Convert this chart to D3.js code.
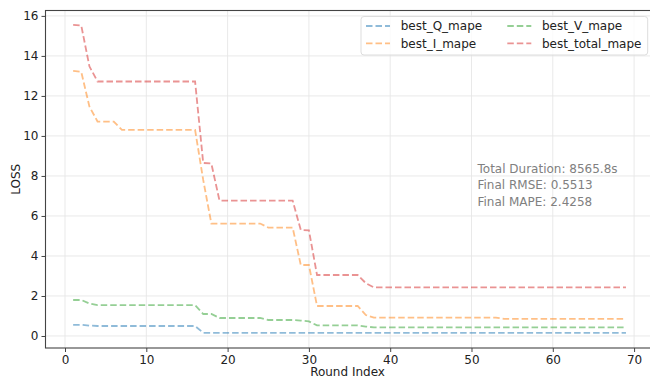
<!DOCTYPE html>
<html>
<head>
<meta charset="utf-8">
<script src="https://cdn.jsdelivr.net/npm/d3@7"></script>
<style>
  body { margin: 0; background: #fff; }
  #chart { width: 650px; height: 379px; }
  text { font-family: "DejaVu Sans", sans-serif; }
</style>
</head>
<body>
<div id="chart"></div>
<script>
// round index 1..69
let rounds = d3.range(1, 70);

let bestQ = [0.56, 0.56, 0.52, 0.5, 0.5, 0.5, 0.5, 0.5, 0.5, 0.5, 0.5, 0.5, 0.5, 0.5, 0.5, 0.5,
    0.16, 0.16, 0.16, 0.16, 0.16, 0.16, 0.16, 0.16, 0.16, 0.16, 0.16, 0.16, 0.16, 0.16,
    0.16, 0.16, 0.16, 0.16, 0.16, 0.16, 0.16, 0.16, 0.16, 0.16, 0.16, 0.16, 0.16, 0.16,
    0.16, 0.16, 0.16, 0.16, 0.16, 0.16, 0.16, 0.16, 0.16, 0.16, 0.16, 0.16, 0.16, 0.16,
    0.16, 0.16, 0.16, 0.16, 0.16, 0.16, 0.16, 0.16, 0.16, 0.16, 0.16];

let bestI = [13.25, 13.2, 11.47, 10.72, 10.72, 10.72, 10.3, 10.3, 10.3, 10.3, 10.3, 10.3, 10.3, 10.3, 10.3, 10.3,
    7.8, 5.62, 5.62, 5.62, 5.62, 5.62, 5.62, 5.62, 5.42, 5.42, 5.42, 5.42, 3.55, 3.55,
    1.5, 1.5, 1.5, 1.5, 1.5, 1.5, 1.05, 0.92, 0.92, 0.92, 0.92, 0.92, 0.92, 0.92,
    0.92, 0.92, 0.92, 0.92, 0.92, 0.92, 0.92, 0.92, 0.92, 0.86, 0.86, 0.86, 0.86, 0.86,
    0.86, 0.86, 0.86, 0.86, 0.86, 0.86, 0.86, 0.86, 0.86, 0.86, 0.86];

let bestV = [1.8, 1.8, 1.62, 1.54, 1.54, 1.54, 1.54, 1.54, 1.54, 1.54, 1.54, 1.54, 1.54, 1.54, 1.54, 1.54,
    1.1, 1.1, 0.9, 0.9, 0.9, 0.9, 0.9, 0.9, 0.8, 0.8, 0.8, 0.8, 0.77, 0.73,
    0.53, 0.53, 0.53, 0.53, 0.53, 0.53, 0.47, 0.43, 0.43, 0.43, 0.43, 0.43, 0.43, 0.43,
    0.43, 0.43, 0.43, 0.43, 0.43, 0.43, 0.43, 0.43, 0.43, 0.43, 0.43, 0.43, 0.43, 0.43,
    0.43, 0.43, 0.43, 0.43, 0.43, 0.43, 0.43, 0.43, 0.43, 0.43, 0.43];

let bestTotal = [15.55, 15.52, 13.48, 12.72, 12.72, 12.72, 12.72, 12.72, 12.72, 12.72, 12.72, 12.72, 12.72, 12.72, 12.72, 12.72,
    8.65, 8.62, 6.77, 6.77, 6.77, 6.77, 6.77, 6.77, 6.77, 6.77, 6.77, 6.77, 5.3, 5.28,
    3.05, 3.05, 3.05, 3.05, 3.05, 3.05, 2.64, 2.43, 2.43, 2.43, 2.43, 2.43, 2.43, 2.43,
    2.43, 2.43, 2.43, 2.43, 2.43, 2.43, 2.43, 2.43, 2.43, 2.43, 2.43, 2.43, 2.43, 2.43,
    2.43, 2.43, 2.43, 2.43, 2.43, 2.43, 2.43, 2.43, 2.43, 2.43, 2.43];

let seriesNames = ["best_Q_mape", "best_I_mape", "best_V_mape", "best_total_mape"];
let seriesColors = ["#1f77b4", "#ff7f0e", "#2ca02c", "#d62728"];

let xTicks = [0, 10, 20, 30, 40, 50, 60, 70];
let yTicks = [0, 2, 4, 6, 8, 10, 12, 14, 16];

let notes = ["Total Duration: 8565.8s", "Final RMSE: 0.5513", "Final MAPE: 2.4258"];

let data = [bestQ, bestI, bestV, bestTotal].map((vals, i) => ({
    name: seriesNames[i],
    color: seriesColors[i],
    values: vals.map((v, j) => ({x: rounds[j], y: v}))
}));

let divWidth = 650, divHeight = 379;
let pLeft = 45.5, pRight = 653.6, pTop = 10.5, pBottom = 348;

let svg = d3.select("#chart").append("svg")
    .attr("width", divWidth)
    .attr("height", divHeight);

svg.append("rect").attr("width", divWidth).attr("height", divHeight).attr("fill", "#fff");

let x = d3.scaleLinear().domain([-2.4, 72.4]).range([pLeft, pRight]);
let y = d3.scaleLinear().domain([-0.6, 16.27]).range([pBottom, pTop]);

// gridlines
let grid = svg.append("g");
grid.selectAll(".gx").data(xTicks).enter().append("line")
    .attr("x1", d => x(d)).attr("x2", d => x(d))
    .attr("y1", pTop).attr("y2", pBottom)
    .attr("stroke", "#e6e6e6").attr("stroke-width", 0.9);
grid.selectAll(".gy").data(yTicks).enter().append("line")
    .attr("y1", d => y(d)).attr("y2", d => y(d))
    .attr("x1", pLeft).attr("x2", pRight)
    .attr("stroke", "#e6e6e6").attr("stroke-width", 0.9);

// lines
let line = d3.line().x(d => x(d.x)).y(d => y(d.y));
svg.append("g").selectAll("path").data(data).enter().append("path")
    .attr("d", d => line(d.values))
    .attr("fill", "none")
    .attr("stroke", d => d.color)
    .attr("stroke-opacity", 0.5)
    .attr("stroke-width", 1.8)
    .attr("stroke-dasharray", "6.5,3");

// axes
let xAxis = svg.append("g")
    .attr("transform", `translate(0,${pBottom})`)
    .call(d3.axisBottom(x).tickValues(xTicks).tickSize(4).tickPadding(3));
let yAxis = svg.append("g")
    .attr("transform", `translate(${pLeft},0)`)
    .call(d3.axisLeft(y).tickValues(yTicks).tickSize(4).tickPadding(3));

[xAxis, yAxis].forEach(a => {
    a.select(".domain").remove();
    a.selectAll("line").attr("stroke", "#444");
    a.selectAll("text").attr("font-size", 12).attr("fill", "#222")
        .attr("font-family", "DejaVu Sans");
});

// frame
svg.append("rect")
    .attr("x", pLeft).attr("y", pTop)
    .attr("width", pRight - pLeft).attr("height", pBottom - pTop)
    .attr("fill", "none").attr("stroke", "#444").attr("stroke-width", 1.1);

// axis labels
svg.append("text")
    .attr("text-anchor", "middle")
    .attr("x", (pLeft + pRight) / 2 - 2)
    .attr("y", 376)
    .attr("font-size", 12)
    .attr("fill", "#222")
    .text("Round Index");

svg.append("text")
    .attr("text-anchor", "middle")
    .attr("transform", "rotate(-90)")
    .attr("x", -(pTop + pBottom) / 2)
    .attr("y", 19.5)
    .attr("font-size", 12)
    .attr("fill", "#222")
    .text("LOSS");

// annotation
svg.append("g").selectAll("text").data(notes).enter().append("text")
    .attr("x", 477.5)
    .attr("y", (d, i) => 173 + i * 16.3)
    .attr("font-size", 12)
    .attr("fill", "#808080")
    .text(d => d);

// legend
let legend = svg.append("g");
legend.append("rect")
    .attr("x", 361).attr("y", 16.5)
    .attr("width", 286.7).attr("height", 38.5)
    .attr("rx", 3).attr("ry", 3)
    .attr("fill", "#fff").attr("fill-opacity", 0.8)
    .attr("stroke", "#d9d9d9").attr("stroke-width", 0.9);

let colX = [366, 507.3];
let textX = [400.7, 542];
let rowY = [26, 43.3];

let items = legend.selectAll(".item").data(data).enter().append("g");
items.append("line")
    .attr("x1", (d, i) => colX[Math.floor(i / 2)])
    .attr("x2", (d, i) => colX[Math.floor(i / 2)] + 24)
    .attr("y1", (d, i) => rowY[i % 2])
    .attr("y2", (d, i) => rowY[i % 2])
    .attr("stroke", d => d.color)
    .attr("stroke-opacity", 0.5)
    .attr("stroke-width", 1.8)
    .attr("stroke-dasharray", "6.5,3");
items.append("text")
    .attr("x", (d, i) => textX[Math.floor(i / 2)])
    .attr("y", (d, i) => rowY[i % 2] + 4.3)
    .attr("font-size", 12)
    .attr("fill", "#222")
    .text(d => d.name);
</script>
</body>
</html>
